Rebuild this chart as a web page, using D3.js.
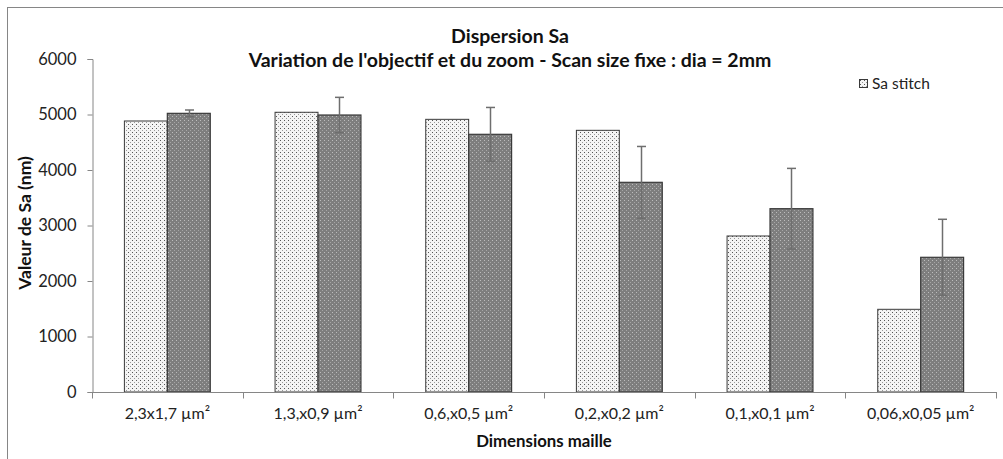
<!DOCTYPE html>
<html><head><meta charset="utf-8">
<script src="https://cdn.jsdelivr.net/npm/d3@7"></script>
<style>body{margin:0;background:#fff}svg{display:block;font-family:Lato,"Open Sans",sans-serif}</style>
</head><body><svg id="c" width="1003" height="459"></svg>
<script>
const categories = ["2,3x1,7 µm²","1,3,x0,9 µm²","0,6,x0,5 µm²","0,2,x0,2 µm²","0,1,x0,1 µm²","0,06,x0,05 µm²"];
const saStitch = [4883, 5040, 4913, 4715, 2811, 1490];
const saOther = [5021, 4991, 4643, 3778, 3303, 2427];
const saOtherErr = [60, 318, 484, 646, 726, 685];
const yTicks = [0,1000,2000,3000,4000,5000,6000];
const titleLines = ["Dispersion Sa","Variation de l'objectif et du zoom - Scan size fixe : dia = 2mm"];
const xTitle = "Dimensions maille";
const yTitle = "Valeur de Sa (nm)";
const legendLabel = "Sa stitch";

const svg = d3.select("#c");
const defs = svg.append("defs");
const p1 = defs.append("pattern").attr("id","pLight").attr("width",4).attr("height",4).attr("patternUnits","userSpaceOnUse");
p1.append("rect").attr("width",4).attr("height",4).attr("fill","#f4f4f4");
p1.append("rect").attr("x",0).attr("y",0).attr("width",1).attr("height",1).attr("fill","#555");
p1.append("rect").attr("x",2).attr("y",2).attr("width",1).attr("height",1).attr("fill","#999");
const p2 = defs.append("pattern").attr("id","pDark").attr("width",4).attr("height",4).attr("patternUnits","userSpaceOnUse");
p2.append("rect").attr("width",4).attr("height",4).attr("fill","#7e7e7e");
p2.append("rect").attr("x",0).attr("y",0).attr("width",1).attr("height",1).attr("fill","#bdbdbd");
p2.append("rect").attr("x",2).attr("y",2).attr("width",1).attr("height",1).attr("fill","#a6a6a6");

// outer border
svg.append("rect").attr("x",7.5).attr("y",7.5).attr("width",1010).attr("height",470)
  .attr("fill","none").attr("stroke","#868686").attr("stroke-width",1);

const m = {l:92, r:996, t:59, b:392};
const x = d3.scaleBand().domain(categories).range([m.l, m.r]).paddingInner(0.43).paddingOuter(0.215);
const xs = d3.scaleBand().domain([0,1]).range([0, x.bandwidth()]);
const y = d3.scaleLinear().domain([0,6000]).range([m.b, m.t]);

// bars
const g = svg.append("g");
g.selectAll(".b1").data(saStitch).join("rect")
  .attr("x",(d,i)=>x(categories[i])+xs(0)).attr("y",d=>y(d))
  .attr("width",xs.bandwidth()).attr("height",d=>y(0)-y(d))
  .attr("fill","url(#pLight)").attr("stroke","#3a3a3a").attr("stroke-width",1);
g.selectAll(".b2").data(saOther).join("rect")
  .attr("x",(d,i)=>x(categories[i])+xs(1)).attr("y",d=>y(d))
  .attr("width",xs.bandwidth()).attr("height",d=>y(0)-y(d))
  .attr("fill","url(#pDark)").attr("stroke","#3a3a3a").attr("stroke-width",1.2);

// error bars
const eg = svg.append("g").attr("stroke","#6e6e6e").attr("stroke-width",1.5);
saOther.forEach((v,i)=>{
  const cx = Math.round(x(categories[i])+xs(1)+xs.bandwidth()/2)+0.5;
  const e = saOtherErr[i];
  eg.append("line").attr("x1",cx).attr("x2",cx).attr("y1",y(v+e)).attr("y2",y(v-e));
  eg.append("line").attr("x1",cx-4.5).attr("x2",cx+4.5).attr("y1",y(v+e)).attr("y2",y(v+e));
  eg.append("line").attr("x1",cx-4.5).attr("x2",cx+4.5).attr("y1",y(v-e)).attr("y2",y(v-e));
});

// y axis
const ya = svg.append("g").attr("transform",`translate(${m.l+0.5},0)`)
  .call(d3.axisLeft(y).tickValues(yTicks).tickSize(5).tickPadding(11).tickFormat(d3.format("d")));
ya.select(".domain").attr("stroke","#868686");
ya.selectAll(".tick line").attr("stroke","#868686");
ya.selectAll("text").attr("font-size",16.5).attr("fill","#222").attr("font-family","Lato");

// x axis
const xa = svg.append("g").attr("transform",`translate(0,${m.b+0.5})`)
  .call(d3.axisBottom(x).tickSize(0).tickPadding(15));
xa.select(".domain").attr("stroke","#868686").attr("d",`M${m.l},0H${m.r+1}`);
xa.selectAll("text").attr("font-size",16).attr("fill","#222").attr("font-family","Lato");
const bounds = [...categories.map(c=>x(c)-x.step()*x.paddingInner()/2), m.r];
xa.selectAll(".sep").data(bounds).join("line").attr("class","sep")
  .attr("x1",d=>Math.round(d)+0.5).attr("x2",d=>Math.round(d)+0.5).attr("y1",0).attr("y2",6)
  .attr("stroke","#868686");

// titles
svg.append("text").attr("x",510).attr("y",43).attr("text-anchor","middle")
  .attr("font-weight","bold").attr("font-size",19.5).attr("fill","#111").text(titleLines[0]);
svg.append("text").attr("x",510).attr("y",67).attr("text-anchor","middle")
  .attr("font-weight","bold").attr("font-size",19.5).attr("fill","#111").text(titleLines[1]);
svg.append("text").attr("x",544).attr("y",447).attr("text-anchor","middle")
  .attr("font-weight","bold").attr("font-size",16.8).attr("fill","#111").text(xTitle);
svg.append("text").attr("transform","translate(31,223) rotate(-90)").attr("text-anchor","middle")
  .attr("font-weight","bold").attr("font-size",17.5).attr("fill","#111").text(yTitle);

// legend
svg.append("rect").attr("x",859.5).attr("y",79.5).attr("width",8).attr("height",8)
  .attr("fill","url(#pLight)").attr("stroke","#3a3a3a");
svg.append("text").attr("x",872).attr("y",89).attr("font-size",15.5).attr("fill","#222").text(legendLabel);
</script></body></html>
